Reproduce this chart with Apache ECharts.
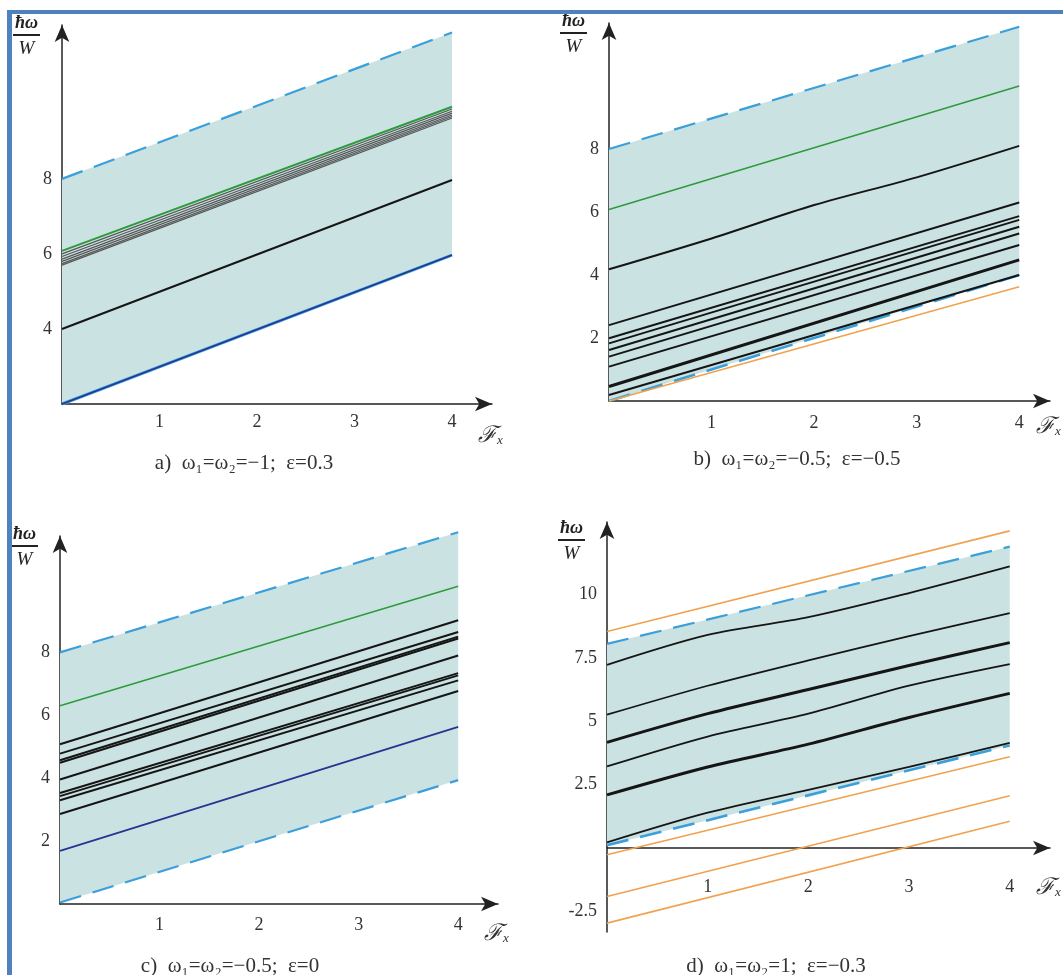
<!DOCTYPE html>
<html>
<head>
<meta charset="utf-8">
<script src="https://cdn.jsdelivr.net/npm/echarts@6/dist/echarts.min.js"></script>
<style>
  html, body { margin: 0; padding: 0; background: #fff; }
  #chart { width: 1063px; height: 975px; }
  .frameL { position: absolute; left: 7px; top: 10px; width: 5px; height: 965px; background: #4f81bd; }
  .frameT { position: absolute; left: 7px; top: 10px; width: 1056px; height: 4px; background: #4f81bd; }
</style>
</head>
<body>
<div id="chart"></div>
<div class="frameL"></div>
<div class="frameT"></div>
<script>
// x positions where the curves were read
const F = [0, 4];
const F5 = [0, 1, 2, 3, 4];
const xTicks = [1, 2, 3, 4];

// a) w1=w2=-1, eps=0.3
const aYTicks = [4, 6, 8];
const aUpper = [8, 11.9];
const aLower = [2, 5.97];
const aGreen = [6.08, 9.92];
const aBundle = [[6.0, 9.86], [5.93, 9.8], [5.86, 9.75], [5.8, 9.7], [5.74, 9.66], [5.7, 9.62]];
const aBlack = [4, 7.97];

// b) w1=w2=-0.5, eps=-0.5
const bYTicks = [2, 4, 6, 8];
const bUpper = [8, 11.88];
const bLower = [0, 4];
const bGreen = [6.08, 10];
const bBlackTop = [4.18, 5.16, 6.22, 7.1, 8.1];
const bBlack = [[2.41, 6.3], [1.99, 5.87], [1.83, 5.75], [1.62, 5.53], [1.41, 5.32], [1.09, 4.95], [0.46, 4.48], [0.19, 4.0]];
const bOrange = [0, 3.63];

// c) w1=w2=-0.5, eps=0
const cYTicks = [2, 4, 6, 8];
const cUpper = [8, 11.82];
const cLower = [0.05, 3.94];
const cGreen = [6.3, 10.1];
const cBlack = [[5.08, 9.02], [4.78, 8.65], [4.57, 8.5], [4.49, 8.44], [3.96, 7.9], [3.53, 7.34], [3.43, 7.27], [3.3, 7.11], [2.86, 6.77]];
const cBlue = [1.69, 5.63];

// d) w1=w2=1, eps=-0.3
const dYTicks = [-2.5, 2.5, 5, 7.5, 10];
const dUpper = [8.05, 11.88];
const dLower = [0.12, 4.05];
const dBlack = [
  [7.22, 8.4, 9.1, 10.05, 11.1],
  [5.26, 6.4, 7.4, 8.35, 9.26],
  [4.17, 5.3, 6.25, 7.2, 8.1],
  [3.22, 4.4, 5.3, 6.4, 7.25],
  [2.1, 3.2, 4.1, 5.15, 6.1],
  [0.23, 1.4, 2.3, 3.2, 4.15]
];
const dThick = [false, false, true, false, true, false];
const dOrange = [[8.54, 12.5], [-0.26, 3.6], [-1.9, 2.07], [-2.95, 1.06]];

const captions = [
  "a)  ω₁=ω₂=−1;  ε=0.3",
  "b)  ω₁=ω₂=−0.5;  ε=−0.5",
  "c)  ω₁=ω₂=−0.5;  ε=0",
  "d)  ω₁=ω₂=1;  ε=−0.3"
];

const SERIF = "'Liberation Serif', 'DejaVu Serif', serif";
const FILL = "#cbe2e2";
const DASH = "#3a9fda";
const GREEN = "#2f9a3c";
const BLUE = "#26358f";
const ORANGE = "#f0a24e";
const INK = "#151515";

const chart = echarts.init(document.getElementById("chart"), null, { renderer: "canvas" });

function line(i, xs, ys, color, width, type, z) {
  return {
    type: "line", xAxisIndex: i, yAxisIndex: i,
    data: xs.map((x, k) => [x, ys[k]]),
    symbol: "none", silent: true, clip: false,
    smooth: ys.length > 2 ? 0.3 : false,
    lineStyle: { color: color, width: width, type: type || "solid" },
    z: z || 3
  };
}

function band(i, lower, upper) {
  return {
    type: "custom", xAxisIndex: i, yAxisIndex: i, data: [[0, 0]], silent: true, z: 1, clip: false,
    renderItem: function (params, api) {
      const pts = [
        api.coord([F[0], lower[0]]), api.coord([F[1], lower[1]]),
        api.coord([F[1], upper[1]]), api.coord([F[0], upper[0]])
      ];
      return { type: "polygon", shape: { points: pts }, style: { fill: FILL } };
    }
  };
}

const grids = [
  { left: 62, top: 25, width: 430, height: 379 },
  { left: 609, top: 23, width: 441, height: 378 },
  { left: 60, top: 536, width: 438, height: 368 },
  { left: 607, top: 522, width: 443, height: 410 }
];
const xMax = [4.41, 4.3, 4.4, 4.4];
const yMin = [2, 0, 0, -3.3];
const yMax = [12.1, 12, 11.7, 12.85];
const yTicks = [aYTicks, bYTicks, cYTicks, dYTicks];
// panel d: x axis sits on the zero line, lifted from the grid bottom
const xOffset = [0, 0, 0, -84];
const xLabelMargin = [9, 13, 12, 30];
const xNamePad = [[20, 0, 0, 0], [14, 0, 0, 0], [18, 0, 0, 0], [28, 0, 0, 0]];
const yNameGap = [-12, -12, -12, -20];

const axisLine = {
  lineStyle: { color: "#222", width: 1.5 },
  symbol: ["none", "arrow"], symbolSize: [11, 17]
};

const xAxis = grids.map((g, i) => ({
  gridIndex: i, type: "value", min: 0, max: xMax[i], offset: xOffset[i],
  axisLine: Object.assign({ onZero: false }, axisLine),
  splitLine: { show: false },
  axisTick: { show: false },
  axisLabel: { customValues: xTicks, margin: xLabelMargin[i], fontFamily: SERIF, fontSize: 18, color: "#333" },
  name: "{f|ℱ}{s|x}", nameLocation: "end", nameGap: -14,
  nameTextStyle: {
    align: "left", verticalAlign: "top", padding: xNamePad[i],
    rich: {
      f: { fontFamily: SERIF, fontStyle: "italic", fontSize: 23, color: "#333" },
      s: { fontFamily: SERIF, fontStyle: "italic", fontSize: 13, color: "#333", padding: [10, 0, 0, 0] }
    }
  }
}));

const yAxis = grids.map((g, i) => ({
  gridIndex: i, type: "value", min: yMin[i], max: yMax[i],
  axisLine: Object.assign({ onZero: false }, axisLine),
  splitLine: { show: false },
  axisTick: { show: false },
  axisLabel: { customValues: yTicks[i], margin: 10, fontFamily: SERIF, fontSize: 18, color: "#333" },
  name: "{t|ħω}\n{bar| }\n{b|W}", nameLocation: "end", nameGap: yNameGap[i],
  nameTextStyle: {
    align: "right", verticalAlign: "middle", padding: [0, 22, 0, 0],
    rich: {
      t: { fontFamily: SERIF, fontStyle: "italic", fontWeight: "bold", fontSize: 18, color: "#222", lineHeight: 19, align: "center" },
      bar: { width: 27, height: 2, backgroundColor: "#222", fontSize: 2, lineHeight: 4, align: "center" },
      b: { fontFamily: SERIF, fontStyle: "italic", fontSize: 19, color: "#222", lineHeight: 23, align: "center" }
    }
  }
}));

const series = [];

// a
series.push(band(0, aLower, aUpper));
series.push(line(0, F, aUpper, DASH, 2.2, [22, 12], 2));
series.push(line(0, F, aLower, DASH, 3, "solid", 2));
aBundle.forEach(v => series.push(line(0, F, v, "#555", 1.2)));
series.push(line(0, F, aGreen, GREEN, 2, "solid", 4));
series.push(line(0, F, aBlack, INK, 2));
series.push(line(0, F, aLower, BLUE, 1.6, "solid", 4));

// b
series.push(band(1, bLower, bUpper));
series.push(line(1, F, bUpper, DASH, 2.2, [22, 12], 2));
series.push(line(1, F, bLower, DASH, 2.6, [22, 12], 2));
series.push(line(1, F, bOrange, ORANGE, 1.6));
series.push(line(1, F, bGreen, GREEN, 1.6));
series.push(line(1, F5, bBlackTop, INK, 2));
bBlack.forEach((v, k) => series.push(line(1, F, v, INK, k === 6 ? 3 : 2)));

// c
series.push(band(2, cLower, cUpper));
series.push(line(2, F, cUpper, DASH, 2.2, [22, 12], 2));
series.push(line(2, F, cLower, DASH, 2.2, [22, 12], 2));
series.push(line(2, F, cGreen, GREEN, 1.6));
series.push(line(2, F, cBlue, BLUE, 1.8));
cBlack.forEach(v => series.push(line(2, F, v, INK, 2)));

// d
series.push(band(3, dLower, dUpper));
series.push(line(3, F, dUpper, DASH, 2.2, [22, 12], 2));
series.push(line(3, F, dLower, DASH, 2.6, [22, 12], 2));
dOrange.forEach(v => series.push(line(3, F, v, ORANGE, 1.6)));
dBlack.forEach((v, k) => series.push(line(3, F5, v, INK, dThick[k] ? 3 : 1.8)));

const capPos = [[244, 463], [797, 459], [230, 966], [776, 966]];
const graphic = captions.map((t, i) => ({
  type: "text", x: capPos[i][0], y: capPos[i][1], silent: true,
  style: { text: t, fontFamily: SERIF, fontSize: 21, fill: "#333", align: "center", verticalAlign: "middle" }
}));

chart.setOption({
  animation: false,
  grid: grids,
  xAxis: xAxis,
  yAxis: yAxis,
  series: series,
  graphic: graphic
});
</script>
</body>
</html>
